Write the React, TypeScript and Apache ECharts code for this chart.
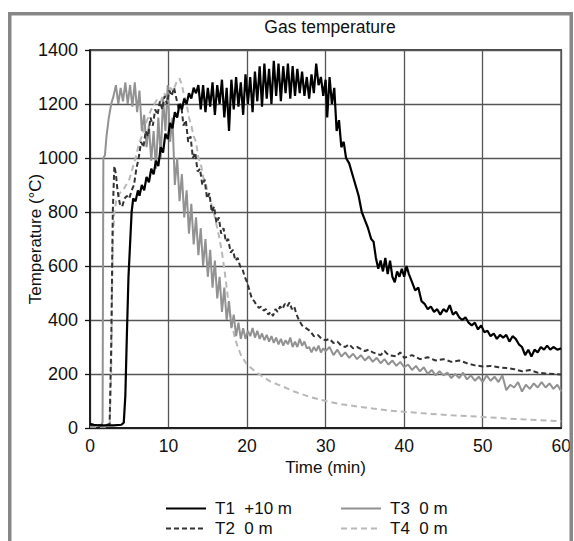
import React, { useEffect, useRef } from "react";
import * as echarts from "echarts";

const TITLE = "Gas temperature";
const X_NAME = "Time (min)";
const Y_NAME = "Temperature (°C)";
const SERIES_NAMES = ["T1  +10 m", "T2  0 m", "T3  0 m", "T4  0 m"];

// [time (min), temperature (°C)]
const T1: number[][] = [
  [0, 15], [0.5, 12], [1, 10], [2, 10], [3, 10], [4, 12], [4.3, 20], [4.5, 120], [4.7, 350], [4.9, 560],
  [5.1, 680], [5.3, 800], [5.5, 850], [5.8, 840], [6.1, 880], [6.3, 860], [6.6, 900], [6.9, 880], [7.2, 930], [7.5, 910],
  [7.8, 960], [8.1, 940], [8.4, 990], [8.7, 970], [9.0, 1040], [9.3, 1020], [9.6, 1090], [9.9, 1070], [10.2, 1130], [10.5, 1110],
  [10.8, 1170], [11.1, 1150], [11.4, 1200], [11.7, 1180], [12.0, 1220], [12.3, 1200], [12.6, 1240], [12.9, 1220], [13.2, 1260], [13.5, 1240],
  [13.8, 1270], [14.1, 1180], [14.4, 1270], [14.7, 1170], [15.0, 1260], [15.3, 1190], [15.6, 1280], [15.9, 1160], [16.2, 1270], [16.5, 1200],
  [16.8, 1290], [17.1, 1150], [17.4, 1260], [17.7, 1100], [18.0, 1290], [18.3, 1180], [18.6, 1300], [18.9, 1190], [19.2, 1280], [19.5, 1160],
  [19.8, 1310], [20.1, 1200], [20.4, 1300], [20.7, 1170], [21.0, 1320], [21.3, 1210], [21.6, 1340], [21.9, 1190], [22.2, 1350], [22.5, 1220],
  [22.8, 1330], [23.1, 1200], [23.4, 1360], [23.7, 1230], [24.0, 1350], [24.3, 1210], [24.6, 1340], [24.9, 1240], [25.2, 1350], [25.5, 1220],
  [25.8, 1340], [26.1, 1230], [26.4, 1330], [26.7, 1240], [27.0, 1320], [27.3, 1230], [27.6, 1300], [27.9, 1220], [28.2, 1310], [28.5, 1240],
  [28.8, 1350], [29.1, 1270], [29.4, 1300], [29.7, 1230], [30.0, 1290], [30.2, 1150], [30.5, 1300], [30.8, 1200], [31.1, 1260], [31.4, 1100],
  [31.7, 1140], [32.0, 1040], [32.3, 1060], [32.6, 1000], [33.0, 980], [33.4, 940], [33.8, 900], [34.2, 860], [34.6, 800], [35.0, 770],
  [35.4, 740], [35.8, 700], [36.1, 690], [36.4, 630], [36.7, 590], [37.0, 620], [37.3, 580], [37.6, 630], [37.9, 570], [38.2, 620],
  [38.5, 560], [38.8, 540], [39.1, 580], [39.4, 560], [39.7, 590], [40.0, 560], [40.3, 600], [40.6, 570], [41.0, 540], [41.4, 510],
  [41.8, 520], [42.2, 470], [42.6, 460], [43.0, 440], [43.4, 450], [43.8, 430], [44.2, 440], [44.6, 420], [45.0, 440], [45.4, 430],
  [45.8, 455], [46.2, 420], [46.6, 430], [47.0, 410], [47.4, 400], [47.8, 410], [48.2, 390], [48.6, 380], [49.0, 390], [49.4, 365],
  [49.8, 380], [50.2, 355], [50.6, 360], [51.0, 340], [51.4, 350], [51.8, 330], [52.2, 345], [52.6, 335], [53.0, 345], [53.4, 320],
  [53.8, 340], [54.2, 330], [54.6, 310], [55.0, 300], [55.4, 270], [55.8, 290], [56.2, 265], [56.6, 290], [57.0, 280], [57.4, 300],
  [57.8, 290], [58.2, 305], [58.6, 290], [59.0, 300], [59.5, 290], [60, 295],
];

const T2: number[][] = [
  [0, 10], [2, 10], [2.5, 15], [2.7, 300], [2.9, 800], [3.1, 970], [3.3, 940], [3.5, 880], [3.8, 830], [4.1, 820],
  [4.4, 850], [4.7, 860], [5.0, 850], [5.3, 880], [5.6, 900], [5.9, 960], [6.2, 1000], [6.5, 1060], [6.8, 1040], [7.1, 1100],
  [7.4, 1080], [7.7, 1150], [8.0, 1120], [8.3, 1180], [8.6, 1160], [8.9, 1210], [9.2, 1180], [9.5, 1230], [9.8, 1200], [10.1, 1250],
  [10.4, 1230], [10.7, 1260], [11.0, 1220], [11.3, 1180], [11.6, 1200], [11.9, 1120], [12.2, 1140], [12.5, 1060], [12.8, 1080], [13.1, 1000],
  [13.4, 1020], [13.7, 950], [14.0, 960], [14.3, 900], [14.6, 920], [14.9, 850], [15.2, 870], [15.5, 800], [15.8, 820], [16.1, 760],
  [16.4, 780], [16.7, 720], [17.0, 740], [17.3, 690], [17.6, 700], [17.9, 650], [18.2, 660], [18.5, 620], [18.8, 630], [19.1, 600],
  [19.4, 590], [19.7, 560], [20.0, 540], [20.3, 510], [20.6, 480], [20.9, 470], [21.2, 455], [21.5, 445], [21.8, 450], [22.1, 435],
  [22.4, 440], [22.7, 420], [23.0, 430], [23.3, 415], [23.6, 440], [23.9, 430], [24.2, 450], [24.5, 440], [24.8, 460], [25.1, 450],
  [25.4, 465], [25.7, 440], [26.0, 450], [26.3, 420], [26.6, 400], [27.0, 380], [27.5, 370], [28.0, 360], [28.5, 340], [29.0, 345],
  [29.5, 330], [30.0, 325], [30.5, 330], [31, 315], [31.5, 320], [32, 305], [32.5, 300], [33, 310], [33.5, 295], [34, 300],
  [35, 285], [35.5, 290], [36, 280], [37, 270], [37.5, 285], [38, 270], [39, 265], [39.5, 280], [40, 260], [41, 270],
  [42, 255], [43, 262], [44, 250], [45, 255], [46, 245], [47, 250], [48, 240], [49, 232], [50, 228], [51, 230],
  [52, 225], [53, 222], [54, 218], [55, 210], [56, 215], [57, 205], [58, 202], [59, 200], [60, 198],
];

const T3: number[][] = [
  [0, 10], [1.4, 10], [1.6, 20], [1.7, 1000], [1.9, 1010], [2.1, 1080], [2.4, 1150], [2.7, 1200], [3.0, 1230], [3.3, 1270],
  [3.6, 1200], [3.9, 1260], [4.2, 1210], [4.5, 1280], [4.8, 1200], [5.1, 1270], [5.4, 1190], [5.7, 1280], [6.0, 1170], [6.3, 1250],
  [6.6, 1100], [6.9, 1160], [7.2, 1040], [7.5, 1120], [7.8, 990], [8.1, 1100], [8.4, 960], [8.7, 1150], [9.0, 1000], [9.3, 1220],
  [9.6, 1100], [9.9, 1270], [10.2, 1060], [10.5, 1150], [10.8, 900], [11.1, 1000], [11.4, 840], [11.7, 940], [12.0, 780], [12.3, 880],
  [12.6, 720], [12.9, 830], [13.2, 680], [13.5, 780], [13.8, 640], [14.1, 740], [14.4, 600], [14.7, 700], [15.0, 560], [15.3, 660],
  [15.6, 520], [15.9, 620], [16.2, 480], [16.5, 560], [16.8, 430], [17.1, 520], [17.4, 400], [17.7, 470], [18.0, 370], [18.3, 420],
  [18.6, 340], [18.9, 390], [19.2, 330], [19.5, 370], [19.8, 330], [20.1, 360], [20.4, 340], [20.7, 370], [21.0, 335], [21.3, 360],
  [21.6, 330], [21.9, 350], [22.2, 325], [22.5, 345], [22.8, 320], [23.1, 340], [23.4, 315], [23.7, 335], [24.0, 310], [24.3, 330],
  [24.6, 305], [24.9, 325], [25.2, 310], [25.5, 335], [25.8, 300], [26.1, 320], [26.4, 300], [26.7, 330], [27.0, 305], [27.3, 320],
  [27.6, 295], [27.9, 300], [28.2, 280], [28.5, 300], [28.8, 285], [29.1, 305], [29.4, 280], [29.7, 295], [30, 285], [30.5, 300],
  [31, 270], [31.5, 290], [32, 265], [32.5, 280], [33, 260], [33.5, 275], [34, 255], [34.5, 270], [35, 250], [35.5, 265],
  [36, 245], [36.5, 260], [37, 240], [37.5, 255], [38, 235], [38.5, 250], [39, 230], [39.5, 245], [40, 225], [40.5, 235],
  [41, 215], [41.5, 230], [42, 210], [42.5, 225], [43, 200], [43.5, 215], [44, 195], [44.5, 210], [45, 195], [45.5, 205],
  [46, 185], [46.5, 200], [47, 185], [47.5, 205], [48, 180], [48.5, 195], [49, 175], [49.5, 190], [50, 170], [50.5, 195],
  [51, 175], [51.5, 190], [52, 170], [52.5, 195], [53, 140], [53.5, 160], [54, 150], [54.5, 170], [55, 135], [55.5, 160],
  [56, 145], [56.5, 165], [57, 150], [57.5, 170], [58, 150], [58.5, 165], [59, 145], [59.5, 160], [60, 135],
];

const T4: number[][] = [
  [0, 5], [2.5, 5], [2.7, 200], [2.9, 700], [3.1, 800], [3.4, 850], [3.8, 870], [4.2, 880], [4.6, 900], [5.0, 920],
  [5.4, 960], [5.8, 1000], [6.2, 1050], [6.6, 1080], [7.0, 1120], [7.4, 1150], [7.8, 1180], [8.2, 1200], [8.6, 1220], [9.0, 1210],
  [9.4, 1240], [9.8, 1230], [10.2, 1260], [10.6, 1250], [11.0, 1280], [11.4, 1295], [11.7, 1270], [12.0, 1230], [12.3, 1200], [12.6, 1150],
  [12.9, 1120], [13.2, 1080], [13.5, 1060], [13.8, 1000], [14.1, 980], [14.4, 930], [14.7, 910], [15.0, 870], [15.3, 850], [15.6, 810],
  [15.9, 780], [16.2, 740], [16.5, 700], [16.8, 650], [17.1, 590], [17.4, 520], [17.7, 450], [18.0, 390], [18.4, 340], [18.8, 300],
  [19.3, 265], [20, 235], [21, 210], [22, 190], [23, 172], [24, 160], [25, 148], [26, 135], [27, 125], [28, 115],
  [30, 100], [32, 88], [34, 80], [36, 72], [38, 65], [40, 60], [43, 53], [46, 47], [50, 41], [55, 32], [60, 25],
];

const FONT = "'Liberation Sans', Arial, Helvetica, sans-serif";

export default function App() {
  const ref = useRef<HTMLDivElement>(null);

  useEffect(() => {
    if (!ref.current) return;
    const chart = echarts.init(ref.current, undefined, { renderer: "svg" });

    const legendBase = {
      orient: "horizontal",
      padding: 0,
      itemWidth: 40,
      itemHeight: 14,
      itemStyle: { opacity: 0 },
      textStyle: { fontSize: 17, color: "#111", fontFamily: FONT, padding: [0, 0, 0, 4] },
    };

    chart.setOption({
      animation: false,
      backgroundColor: "#fff",
      textStyle: { fontFamily: FONT },
      graphic: [
        {
          type: "rect",
          shape: { x: 9.75, y: 13.75, width: 561.5, height: 600 },
          style: { fill: "none", stroke: "#878787", lineWidth: 3.5 },
          silent: true,
          z: 100,
        },
        {
          type: "text",
          x: 330,
          y: 27,
          style: {
            text: TITLE,
            fontSize: 17.5,
            fontFamily: FONT,
            fill: "#111",
            align: "center",
            verticalAlign: "middle",
          },
        },
      ],
      legend: [
        { ...legendBase, data: [SERIES_NAMES[0]], left: 165, top: 500 },
        { ...legendBase, data: [SERIES_NAMES[2]], left: 340, top: 500 },
        { ...legendBase, data: [SERIES_NAMES[1]], left: 165, top: 520 },
        { ...legendBase, data: [SERIES_NAMES[3]], left: 340, top: 520 },
      ],
      grid: {
        left: 90,
        right: 7,
        top: 50,
        bottom: 113,
        show: true,
        borderColor: "#111",
        borderWidth: 1.5,
        backgroundColor: "transparent",
      },
      xAxis: {
        type: "value",
        min: 0,
        max: 60,
        interval: 10,
        name: X_NAME,
        nameLocation: "middle",
        nameGap: 31,
        nameMoveOverlap: false,
        nameTextStyle: { fontSize: 17, color: "#111", fontFamily: FONT },
        axisLine: { show: true, lineStyle: { color: "#111", width: 1.5 } },
        axisTick: { show: false },
        axisLabel: { fontSize: 17.5, color: "#111", margin: 9, fontFamily: FONT, formatter: (v: number) => String(v) },
        splitLine: { show: true, lineStyle: { color: "#555", width: 1.3 } },
      },
      yAxis: {
        type: "value",
        min: 0,
        max: 1400,
        interval: 200,
        name: Y_NAME,
        nameLocation: "middle",
        nameGap: 46,
        nameMoveOverlap: false,
        nameTextStyle: { fontSize: 17, color: "#111", fontFamily: FONT },
        axisLine: { show: true, lineStyle: { color: "#111", width: 1.5 } },
        axisTick: { show: true, length: 5, lineStyle: { color: "#111", width: 1.3 } },
        axisLabel: { fontSize: 18, color: "#111", margin: 12, fontFamily: FONT, formatter: (v: number) => String(v) },
        splitLine: { show: true, lineStyle: { color: "#555", width: 1.3 } },
      },
      series: [
        {
          name: SERIES_NAMES[3],
          type: "line",
          data: T4,
          symbol: "none",
          lineStyle: { color: "#b8b8b8", width: 2, type: [6, 4] },
          itemStyle: { color: "#b8b8b8" },
          z: 2,
        },
        {
          name: SERIES_NAMES[2],
          type: "line",
          data: T3,
          symbol: "none",
          lineStyle: { color: "#929292", width: 2 },
          itemStyle: { color: "#929292" },
          z: 3,
        },
        {
          name: SERIES_NAMES[1],
          type: "line",
          data: T2,
          symbol: "none",
          lineStyle: { color: "#333", width: 2, type: [5, 3] },
          itemStyle: { color: "#333" },
          z: 4,
        },
        {
          name: SERIES_NAMES[0],
          type: "line",
          data: T1,
          symbol: "none",
          lineStyle: { color: "#000", width: 2.2 },
          itemStyle: { color: "#000" },
          z: 5,
        },
      ],
    });

    return () => chart.dispose();
  }, []);

  return (
    <div
      ref={ref}
      style={{ position: "fixed", left: 0, top: 0, width: 574, height: 541, background: "#fff" }}
    />
  );
}
